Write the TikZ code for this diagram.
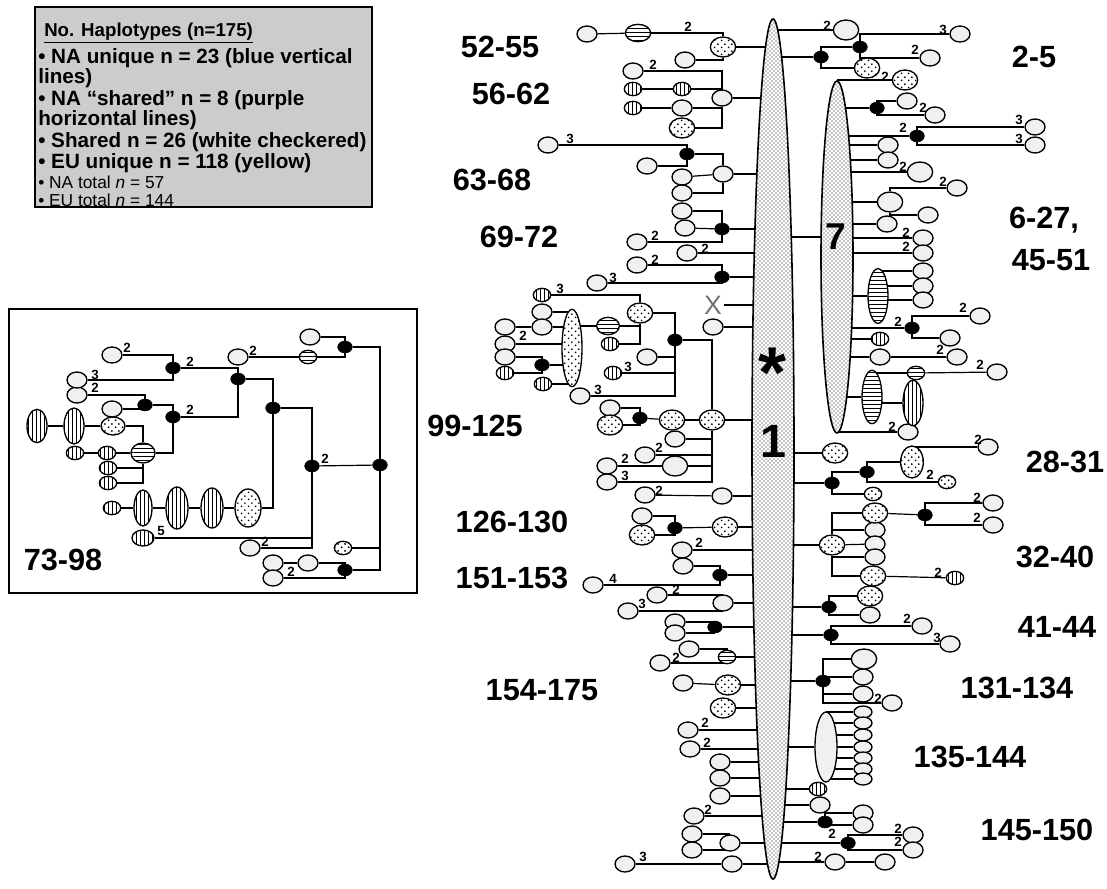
\documentclass[tikz,border=0pt]{standalone}
\usepackage{fontspec}
\setmainfont{Liberation Sans}
\usetikzlibrary{shapes.geometric, patterns, positioning}
\pgfdeclarelayer{bg}
\pgfsetlayers{bg,main}
% coarse stipple for the shared haplotypes
\pgfdeclarepatternformonly{hapdots}{\pgfqpoint{0pt}{0pt}}{\pgfqpoint{5pt}{5pt}}{\pgfqpoint{5pt}{5pt}}{%
  \pgfpathcircle{\pgfqpoint{1.25pt}{1.25pt}}{0.75pt}
  \pgfpathcircle{\pgfqpoint{3.75pt}{3.75pt}}{0.75pt}
  \pgfusepath{fill}}
\tikzset{
  hap/.style={ellipse, draw, line width=1pt, inner sep=0pt, minimum width=15pt, minimum height=12pt},
  eu/.style={hap, fill=black!6},
  sh/.style={hap, preaction={fill=white}, pattern=hapdots},
  nav/.style={hap, preaction={fill=white}, pattern=vertical lines},
  nah/.style={hap, preaction={fill=white}, pattern=horizontal lines},
  med/.style={ellipse, draw, fill=black, inner sep=0pt, minimum width=11pt, minimum height=9pt},
  lg/.style={minimum width=19pt, minimum height=15pt},
  sm/.style={minimum width=13pt, minimum height=10pt},
  spine/.style={ellipse, draw, line width=1.2pt, inner sep=0pt, preaction={fill=white}, pattern=crosshatch dots},
  mut/.style={font=\bfseries\fontsize{10}{10}\selectfont, inner sep=0pt},
  grp/.style={font=\bfseries\fontsize{23}{23}\selectfont, inner sep=0pt},
  leg/.style={font=\bfseries\fontsize{15.5}{15.5}\selectfont, anchor=west, inner sep=0pt},
  link/.style={line width=0.9pt}
}
\begin{document}
\begin{tikzpicture}[x=0.75pt, y=-0.75pt]
\useasboundingbox (0,0) rectangle (1107,889);

% legend
\draw[line width=1pt, fill=black!20] (35,7) rectangle (372,207);
\node[leg, font=\bfseries\fontsize{14}{14}\selectfont] (ln0) at (44,33) {\underline{No. Haplotypes (n=175)}};
\foreach \y/\t [count=\i] in {58/{• NA unique n = 23 (blue vertical}, 78/{lines)},
  100/{• NA “shared” n = 8 (purple}, 120/{horizontal lines)},
  142/{• Shared n = 26 (white checkered)}, 163/{• EU unique n = 118 (yellow)}}
  \node[leg] (ln\i) at (38,\y) {\t};
\node[leg, font=\fontsize{13}{13}\selectfont] (ln7) at (38,182) {• NA total \textit{n} = 57};
\node[leg, font=\fontsize{13}{13}\selectfont] (ln8) at (38,200) {• EU total \textit{n} = 144};

% inset box
\draw[line width=1.2pt] (9,309) rectangle (417,593);

% central haplotypes 1 and 7
\node[spine, minimum width=31.5pt, minimum height=645pt] (one) at (773,449) {};
\node[spine, minimum width=24pt, minimum height=264pt] (seven) at (837,257) {};
\node[font=\bfseries\fontsize{35}{35}\selectfont, inner sep=0pt] (lab1) at (773,441) {1};
\node[font=\bfseries\fontsize{54}{54}\selectfont, inner sep=0pt] (ast) at (773,373) {*};
\node[font=\bfseries\fontsize{28}{28}\selectfont, inner sep=0pt] (lab7) at (836,237) {7};
\node[font=\fontsize{20}{20}\selectfont, text=black!55, inner sep=1pt] (xm) at (713,305) {X};

% EU haplotypes
\foreach \n/\x/\y in {a1/587/34, a4/685/60, b1/633/71, b5/682/108, b7/722/98, c1/548/145,
  c3/647/166, c4/723/174, c5/682/177, c6/682/193, d1/682/211, d2/685/228, d3/637/242,
  d5/687/253, d6/637/265, d8/597/283, d9/713/327, e6/542/312, e7/542/327, e8/505/327,
  e9/505/344, e10/505/357, e15/647/357, e17/580/396, e21/610/408, e23/675/439, e24/645/455,
  e25/607/466, e27/607/482, f1/645/495, f2/722/496, f3/642/516, f7/682/550, f8/683/566,
  f10/593/585, f11/657/595, f12/723/603, f13/628/611, f14/675/622, f15/675/633, f17/689/649,
  f19/660/663, g1/683/683, g4/688/730, g5/690/749, g6/720/762, g7/720/778, g8/720/796,
  g9/694/816, g10/692/834, g11/692/850, g12/730/843, g13/625/864, g14/732/864,
  h5/960/34, h6/930/58, i3/907/101, i4/935/115, i6/1035/127, i7/1035/145, i8/888/145,
  i9/888/160, i12/957/188, i13/928/215, i14/887/224, i15/923/238, i16/923/253, i18/923/271,
  i19/923/286, i20/923/300, i22/980/316, i23/950/338, i25/880/357, i26/957/357, i29/997/372,
  i31/908/432, j3/988/447, k3/875/530, k4/875/544, k5/875/557, k8/993/503, k9/993/525,
  p3/870/615, p5/922/626, p6/950/644, m3/863/677, m4/863/694, m5/892/703, o2/820/805,
  o4/863/813, o5/863/825, o7/913/835, o8/913/850, o9/835/862, o10/885/862,
  q9/112/409, q12/77/395, q13/77/380, q15/112/355, q17/238/357, q20/310/337, q30/250/548,
  q33/308/563, q34/273/563, q35/273/578}
  \node[eu] (\n) at (\x,\y) {};
\foreach \n/\x/\y in {e26/675/466, h1/846/30, i10/920/172, i11/890/202, m2/864/659}
  \node[eu, lg] (\n) at (\x,\y) {};
\node[eu, minimum width=16.5pt, minimum height=52.5pt] (n1) at (826,747) {};
\foreach \y [count=\i from 2] in {712,723,735,747,758,769,779}
  \node[eu, minimum width=13.5pt, minimum height=9pt] (n\i) at (863,\y) {};

% shared haplotypes
\foreach \n/\x/\y in {a3/723/47, b6/682/128, e2/640/313, e18/712/420, e19/672/420, e22/610/425,
  f4/642/535, f6/725/527, g2/728/685, g3/723/708, h4/867/68, i1/905/80, j1/835/453,
  k1/832/545, k2/875/513, k6/873/576, p2/870/596}
  \node[sh, lg] (\n) at (\x,\y) {};
\foreach \n/\x/\y in {j5/947/482, j7/873/494, q31/343/548}
  \node[sh, sm] (\n) at (\x,\y) {};
\node[sh, minimum width=15pt, minimum height=58pt] (e5) at (572,348) {};
\node[sh, minimum width=17pt, minimum height=24pt] (j2) at (912,462) {};
\node[sh, minimum width=18pt, minimum height=13.5pt] (q3) at (113,426) {};
\node[sh, minimum width=19.5pt, minimum height=28.5pt] (q24) at (248,508) {};

% NA unique
\foreach \n/\x/\y in {b2/633/89, b3/682/89, b4/633/108, e1/542/295, e4/610/344, e12/505/373,
  e13/543/384, e16/613/373, i24/880/339, k10/955/578, o1/818/789, q5/75/453, q6/107/453,
  q7/108/468, q8/108/483, q28/112/508}
  \node[nav, sm] (\n) at (\x,\y) {};
\node[nav, minimum width=15pt, minimum height=34pt] (i30) at (913,403) {};
\node[nav, minimum width=15pt, minimum height=25pt] (q1) at (37,426) {};
\node[nav, minimum width=15pt, minimum height=27pt] (q2) at (74,426) {};
\node[nav, minimum width=16.5pt, minimum height=30pt] (q25) at (212,508) {};
\node[nav, minimum width=16.5pt, minimum height=31.5pt] (q26) at (177,508) {};
\node[nav, minimum width=13.5pt, minimum height=27pt] (q27) at (143,508) {};
\node[nav, minimum width=16.5pt, minimum height=12pt] (q29) at (143,538) {};

% NA shared
\foreach \n/\x/\y in {f18/727/657, i28/916/373, q18/308/357}
  \node[nah, sm] (\n) at (\x,\y) {};
\node[nah, minimum width=19pt, minimum height=13pt] (a2) at (638,33) {};
\node[nah, minimum width=17pt, minimum height=13pt] (e3) at (608,326) {};
\node[nah, minimum width=15pt, minimum height=41pt] (i17) at (878,296) {};
\node[nah, minimum width=15pt, minimum height=40pt] (i27) at (872,397) {};
\node[nah, minimum width=18pt, minimum height=15pt] (q4) at (143,453) {};

% median vectors
\foreach \n/\x/\y in {c2/687/154, d4/722/229, d7/722/277, e11/542/365, e14/675/340, e20/640/418,
  f5/675/528, f9/720/575, f16/715/627, h2/821/57, h3/860/47, i2/877/108, i5/917/136,
  i21/912/328, j4/867/472, j6/832/483, k7/925/515, p1/829/607, p4/831/635, m1/823/681,
  o3/825/822, o6/848/843, q10/145/405, q11/173/417, q14/173/368, q16/238/379, q19/345/347,
  q21/273/408, q22/312/466, q23/380/465, q32/345/570}
  \node[med] (\n) at (\x,\y) {};

% mutational steps
\foreach \x/\y/\t [count=\i] in {688/27/2, 653/65/2, 570/139/3, 655/236/2, 705/249/2, 655/260/2,
  613/278/3, 560/289/3, 523/336/2, 628/367/3, 598/390/3, 659/448/2, 625/459/2, 625/476/3,
  659/491/2, 699/543/2, 613/579/4, 676/590/2, 642/604/3, 676/658/2, 705/723/2, 707/743/2,
  708/810/2, 643/857/3, 827/26/2, 943/30/3, 915/50/2, 885/77/2, 923/108/2, 903/128/2,
  1019/120/3, 1019/139/3, 903/167/2, 943/182/2, 906/233/2, 906/247/2, 898/322/2, 963/308/2,
  940/350/2, 980/365/2, 892/427/2, 978/440/2, 930/475/2, 977/498/2, 977/518/2, 938/573/2,
  907/619/2, 937/638/3, 878/699/2, 832/834/2, 898/829/2, 898/842/2, 818/857/2,
  190/410/2, 95/388/2, 95/375/3, 190/362/2, 127/348/2, 253/351/2, 325/459/2, 161/531/5,
  265/542/2, 291/572/2}
  \node[mut] (mu\i) at (\x,\y) {\t};

% group labels
\foreach \x/\y/\t [count=\i] in {500/47/52-55, 511/94/56-62, 492/180/63-68, 519/237/69-72,
  475/426/99-125, 512/522/126-130, 512/578/151-153, 542/690/154-175, 1034/57/2-5,
  1044/220/{6-27,}, 1051/260/45-51, 1065/462/28-31, 1055/557/32-40, 1057/627/41-44,
  1017/688/131-134, 970/757/135-144, 1037/830/145-150, 63/560/73-98}
  \node[grp] (lbl\i) at (\x,\y) {\t};

% connectors
\begin{pgfonlayer}{bg}
\begin{scope}[link]
\draw (lab7 -| one) -- (lab7);
\foreach \n in {a3,b7,c4,d4,d5,d7,xm,d9,e18,f2,f6,f7,f9,f12,f16,f18,g2,g3,g4,g5,g6,g7,g8,g9,
  g12,g14,h1,h2,j1,j6,k1,p1,p4,m1,n1,o1,o2,o3,o6,o9}
  \draw (\n) -- (\n -| one);
\foreach \n in {i1,i2,i5,i8,i9,i10,i11,i14,i15,i16,i17,i21,i24,i25,i27,i31}
  \draw (\n) -- (\n -| seven);
\foreach \a/\b in {a1/a2, b2/b3, b4/b5, c5/c4, d2/d4, e8/e7, e19/e18, e20/e19, e25/e26, f1/f2,
  f5/f6, g1/g2, g13/g14, i25/i26, i28/i29, k4/k1, k2/k7, k6/k10, o9/o10, q1/q2, q2/q3,
  q5/q6, q6/q4, q17/q18, q22/q23, q24/q25, q25/q26, q26/q27, q27/q28, q34/q33}
  \draw (\a) -- (\b);
\foreach \a/\b in {a2/a3, a4/a3, b1/b7, b3/b7, b5/b7, b6/b7, c1/c2, c3/c2, c2/c4, c6/c4,
  d1/d4, d3/d4, d6/d7, d8/d7, e1/e2, e4/e2, e10/e11, e12/e11, e2/e14, e17/e14, e14/e18,
  e21/e20, e22/e20, e27/e18, f3/f5, f4/f5, f8/f9, f10/f9, f17/f18, f19/f18, k2/k1, k6/k1,
  m2/m1, m5/m1, q3/q4, q8/q4, q4/q11, q12/q10, q10/q11, q13/q14, q15/q14, q14/q16, q11/q16,
  q18/q19, q20/q19, q19/q23, q16/q21, q21/q22, q24/q21, q30/q22, q32/q23, q33/q32, q35/q32}
  \draw (\a) -| (\b);
\foreach \a/\b in {h2/h3, h2/h4, h3/h5, h3/h6, i2/i3, i2/i4, i5/i6, i5/i7, i11/i12, i11/i13,
  i21/i22, i21/i23, j4/j2, j4/j5, j6/j4, j6/j7, k7/k8, k7/k9, p1/p2, p1/p3, p4/p5, p4/p6,
  o3/o4, o3/o5, o6/o7, o6/o8}
  \draw (\a) |- (\b);
\foreach \a/\b in {e3/e2, e3/e5, e6/e5, e7/e5, e9/e5, e11/e5, e13/e5, e15/e14, e16/e14,
  e23/e18, e24/e18, e26/e18, f11/f12, f13/f12, f14/f16, f15/f16, g10/g12, g11/g12,
  i18/i17, i19/i17, i20/i17, i28/i27, i30/i27, j3/j2, k3/k1, k5/k1, m3/m1, m4/m1,
  n2/n1, n3/n1, n4/n1, n5/n1, n6/n1, n7/n1, n8/n1, q9/q10, q7/q4, q29/q22, q31/q23}
  \draw (\a) -- (\a -| \b);
\end{scope}
\end{pgfonlayer}
\end{tikzpicture}
\end{document}
